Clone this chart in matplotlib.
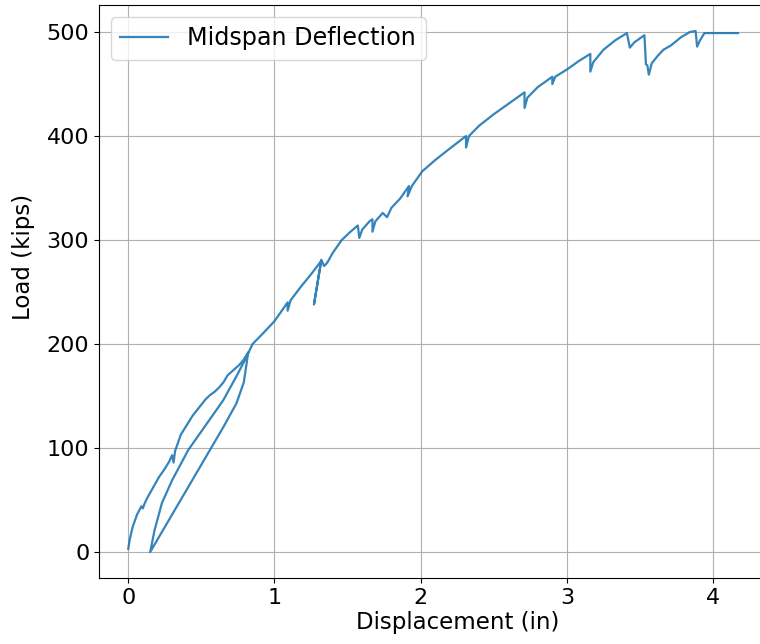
# Load vs midspan deflection plot
import matplotlib
matplotlib.use('Agg')
import matplotlib.pyplot as plt

# displacement (in) and load (kips)
# first loading branch (noisy upper curve)
disp_load1 = [0.00, 0.01, 0.03, 0.06, 0.09, 0.10, 0.11, 0.13, 0.17, 0.21, 0.25, 0.28,
              0.30, 0.31, 0.32, 0.36, 0.40, 0.44, 0.49, 0.53, 0.56, 0.59, 0.62, 0.65,
              0.68, 0.72, 0.76, 0.79, 0.82]
load_load1 = [3, 12, 24, 36, 44, 42, 46, 52, 62, 72, 80, 87,
              93, 86, 97, 113, 122, 131, 140, 147, 151, 154, 158, 163,
              170, 175, 180, 185, 192]

# unloading branch (thin lower line)
disp_unload = [0.81, 0.79, 0.74, 0.65, 0.45, 0.15]
load_unload = [182, 163, 143, 120, 72, 0]

# reloading branch and continuation to peak
disp_reload = [0.18, 0.23, 0.30, 0.41, 0.54, 0.65, 0.74, 0.81,
               0.85, 0.92, 1.00, 1.05, 1.09, 1.09, 1.11, 1.18, 1.25, 1.32,
               1.27, 1.32, 1.34, 1.36, 1.40, 1.46, 1.52, 1.57, 1.58, 1.60,
               1.65, 1.67, 1.67, 1.69, 1.74, 1.77, 1.80, 1.86, 1.92, 1.91,
               1.94, 2.01, 2.10, 2.19, 2.31, 2.31, 2.33, 2.40, 2.50, 2.60,
               2.71, 2.71, 2.73, 2.80, 2.90, 2.90, 2.92, 3.00, 3.08, 3.16,
               3.16, 3.18, 3.25, 3.33, 3.41, 3.43, 3.46, 3.53, 3.54, 3.55,
               3.56, 3.58, 3.62, 3.66, 3.71, 3.78, 3.84, 3.88, 3.89, 3.91,
               3.94, 4.17]
load_reload = [21, 47, 69, 98, 124, 146, 169, 188,
               200, 210, 222, 232, 240, 232, 242, 255, 267, 280,
               238, 281, 275, 278, 288, 300, 308, 314, 302, 310,
               318, 320, 308, 318, 326, 322, 331, 340, 352, 342,
               352, 366, 377, 387, 400, 389, 400, 410, 421, 431,
               442, 427, 437, 447, 457, 450, 457, 464, 472, 479,
               462, 471, 483, 492, 499, 485, 490, 497, 469, 468,
               459, 470, 477, 483, 487, 495, 500, 501, 486, 492,
               499, 499]

disp = disp_load1 + disp_unload + disp_reload
load = load_load1 + load_unload + load_reload

fig = plt.figure(figsize=(7.6, 6.44), dpi=100)
ax = fig.add_axes([99 / 760, 66 / 644, 718 / 760, 573 / 644])

ax.plot(disp, load, color='tab:blue', linewidth=1.6, alpha=0.9, label='Midspan Deflection')

ax.set_xlim(-0.2, 4.71)
ax.set_ylim(-25, 526)
ax.set_xticks([0, 1, 2, 3, 4])
ax.set_yticks([0, 100, 200, 300, 400, 500])
ax.tick_params(labelsize=16)
ax.set_xlabel('Displacement (in)', fontsize=16.5, labelpad=2)
ax.set_ylabel('Load (kips)', fontsize=16.5)
ax.yaxis.set_label_coords(-0.089, 0.56)
ax.grid(True)
ax.legend(loc='upper left', fontsize=17.2)

plt.savefig('out.png', dpi=100)
